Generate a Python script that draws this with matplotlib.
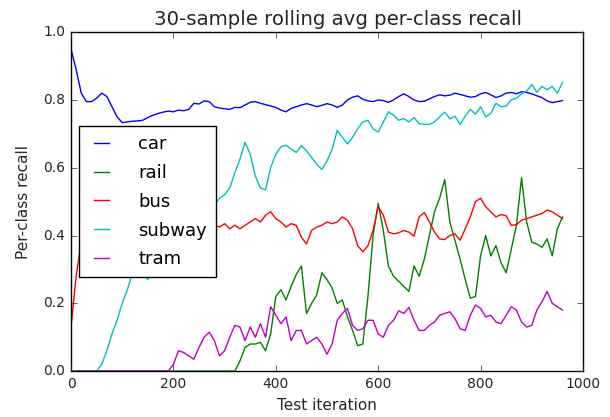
import numpy as np
import matplotlib
matplotlib.use("Agg")
import matplotlib.pyplot as plt

# test iterations sampled every 10 steps (0..960)
iterations = np.arange(0, 970, 10)

car = [0.95, 0.89, 0.82, 0.795, 0.795, 0.805, 0.82, 0.81, 0.78, 0.75,
       0.733, 0.735, 0.737, 0.738, 0.74, 0.748, 0.755, 0.76, 0.764, 0.767,
       0.765, 0.77, 0.768, 0.772, 0.79, 0.788, 0.797, 0.795, 0.78, 0.776,
       0.774, 0.772, 0.778, 0.777, 0.785, 0.793, 0.795, 0.79, 0.786, 0.782,
       0.778, 0.77, 0.765, 0.775, 0.78, 0.785, 0.789, 0.785, 0.78, 0.784,
       0.789, 0.785, 0.778, 0.785, 0.8, 0.808, 0.812, 0.802, 0.797, 0.795,
       0.8, 0.798, 0.793, 0.8, 0.81, 0.818, 0.81, 0.8, 0.795, 0.796,
       0.803, 0.81, 0.815, 0.812, 0.814, 0.82, 0.816, 0.812, 0.808, 0.81,
       0.818, 0.822, 0.815, 0.807, 0.812, 0.82, 0.822, 0.818, 0.824, 0.822,
       0.818, 0.812, 0.807, 0.797, 0.792, 0.795, 0.798]

rail = [0.0] * 33 + [
    0.03, 0.07, 0.08, 0.08, 0.085, 0.06, 0.11,
    0.22, 0.24, 0.21, 0.25, 0.285, 0.31, 0.17, 0.20, 0.225, 0.29,
    0.27, 0.245, 0.20, 0.21, 0.16, 0.12, 0.075, 0.08, 0.22, 0.40,
    0.495, 0.415, 0.31, 0.28, 0.265, 0.25, 0.235, 0.31, 0.28, 0.33,
    0.40, 0.47, 0.51, 0.565, 0.44, 0.385, 0.33, 0.27, 0.215, 0.22,
    0.34, 0.40, 0.34, 0.37, 0.32, 0.29, 0.36, 0.43, 0.57, 0.44,
    0.38, 0.375, 0.365, 0.39, 0.34, 0.42, 0.455]

bus = [0.13, 0.28, 0.38, 0.40, 0.41, 0.42, 0.43, 0.42, 0.41, 0.42,
       0.43, 0.42, 0.43, 0.44, 0.43, 0.42, 0.43, 0.44, 0.43, 0.42,
       0.42, 0.43, 0.44, 0.43, 0.42, 0.43, 0.42, 0.43, 0.43, 0.425,
       0.435, 0.42, 0.43, 0.42, 0.43, 0.44, 0.45, 0.44, 0.46, 0.47,
       0.45, 0.44, 0.425, 0.435, 0.43, 0.395, 0.375, 0.415, 0.425, 0.43,
       0.44, 0.435, 0.44, 0.455, 0.445, 0.42, 0.37, 0.352, 0.37, 0.415,
       0.485, 0.46, 0.41, 0.405, 0.408, 0.415, 0.41, 0.398, 0.455, 0.468,
       0.44, 0.41, 0.39, 0.388, 0.40, 0.405, 0.386, 0.42, 0.455, 0.50,
       0.51, 0.485, 0.47, 0.455, 0.462, 0.458, 0.43, 0.432, 0.445, 0.45,
       0.455, 0.46, 0.465, 0.475, 0.47, 0.46, 0.45]

subway = [0.0] * 6 + [
    0.02, 0.06, 0.11, 0.15,
    0.20, 0.24, 0.29, 0.30, 0.29, 0.27, 0.31, 0.34, 0.37, 0.39,
    0.40, 0.42, 0.43, 0.44, 0.46, 0.45, 0.47, 0.48, 0.49, 0.51,
    0.52, 0.54, 0.585, 0.625, 0.675, 0.64, 0.575, 0.54, 0.535, 0.60,
    0.64, 0.662, 0.666, 0.655, 0.645, 0.665, 0.65, 0.63, 0.61, 0.595,
    0.62, 0.655, 0.71, 0.69, 0.67, 0.69, 0.715, 0.735, 0.74, 0.715,
    0.705, 0.735, 0.765, 0.755, 0.74, 0.745, 0.735, 0.748, 0.73, 0.728,
    0.728, 0.735, 0.75, 0.764, 0.744, 0.752, 0.728, 0.752, 0.772, 0.758,
    0.78, 0.75, 0.76, 0.79, 0.78, 0.782, 0.80, 0.805, 0.818, 0.826,
    0.845, 0.823, 0.84, 0.83, 0.84, 0.82, 0.852]

tram = [0.0] * 20 + [
    0.02, 0.06, 0.055, 0.045, 0.035, 0.07, 0.10, 0.115, 0.09, 0.045,
    0.06, 0.10, 0.135, 0.13, 0.09, 0.13, 0.10, 0.14, 0.10, 0.19,
    0.165, 0.14, 0.16, 0.09, 0.12, 0.12, 0.08, 0.09, 0.10, 0.08,
    0.05, 0.08, 0.15, 0.17, 0.185, 0.135, 0.12, 0.125, 0.15, 0.15,
    0.11, 0.10, 0.135, 0.15, 0.178, 0.17, 0.188, 0.15, 0.12, 0.12,
    0.135, 0.145, 0.165, 0.17, 0.175, 0.155, 0.125, 0.12, 0.165, 0.195,
    0.185, 0.16, 0.165, 0.145, 0.14, 0.165, 0.19, 0.18, 0.145, 0.13,
    0.135, 0.18, 0.205, 0.235, 0.2, 0.19, 0.18]

series = {"car": car, "rail": rail, "bus": bus, "subway": subway, "tram": tram}
colors = ["b", "g", "r", "c", "m"]

plt.style.use("classic")
fig = plt.figure(figsize=(6.1, 4.17), dpi=100, facecolor="white")
ax = fig.add_axes([0.1164, 0.110, 0.8393, 0.813])

for (name, vals), col in zip(series.items(), colors):
    ax.plot(iterations, vals, color=col, lw=1.0, label=name)

ax.set_xlim(0, 1000)
ax.set_ylim(0, 1.0)
ax.set_xticks(np.arange(0, 1001, 200))
ax.set_yticks(np.arange(0, 1.01, 0.2))
ax.tick_params(labelsize=10, colors="#262626")
ax.set_title("30-sample rolling avg per-class recall", fontsize=14.2,
             color="#262626", x=0.521)
ax.set_xlabel("Test iteration", fontsize=11, color="#262626")
ax.set_ylabel("Per-class recall", fontsize=11, color="#262626", labelpad=9)

leg = ax.legend(loc="upper left", bbox_to_anchor=(0.0165, 0.723), fontsize=13,
                borderaxespad=0.0, handlelength=1.45, handletextpad=1.3,
                labelspacing=0.6, borderpad=0.5)
leg.get_frame().set_edgecolor("black")

fig.savefig("out.png", dpi=100, facecolor="white")
